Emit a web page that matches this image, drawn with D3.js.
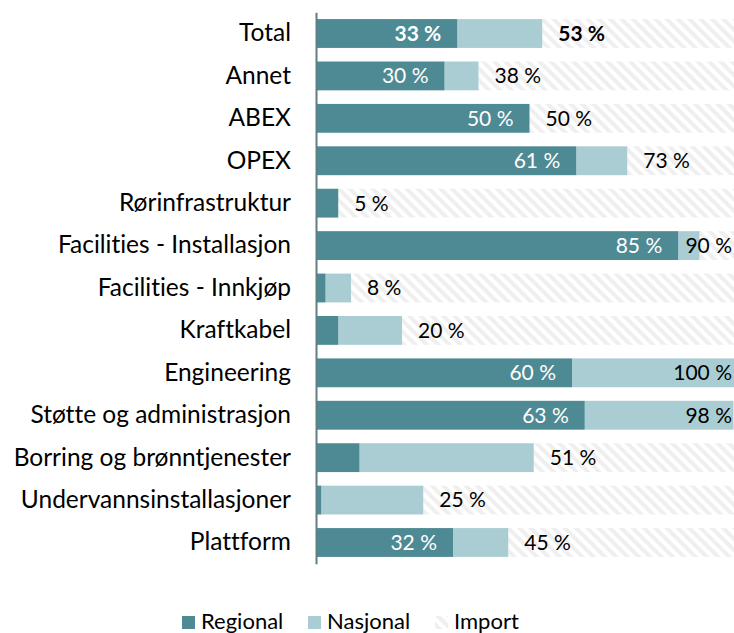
<!DOCTYPE html>
<html>
<head>
<meta charset="utf-8">
<script src="https://cdn.jsdelivr.net/npm/d3@7"></script>
<style>
  html, body { margin: 0; padding: 0; background: #fff; }
  svg { display: block; font-family: Lato, "Open Sans", sans-serif; font-variant-ligatures: none; }
</style>
</head>
<body>
<svg id="chart" width="734" height="633"></svg>
<script>
// Share of deliveries by origin (per cent), per category
const categories = [
  "Total", "Annet", "ABEX", "OPEX", "Rørinfrastruktur",
  "Facilities - Installasjon", "Facilities - Innkjøp", "Kraftkabel",
  "Engineering", "Støtte og administrasjon", "Borring og brønntjenester",
  "Undervannsinstallasjoner", "Plattform"
];
const regional = [33, 30, 50, 61, 5, 85, 2, 5, 60, 63, 10, 1, 32];
const nasjonal = [20, 8, 0, 12, 0, 5, 6, 15, 40, 35, 41, 24, 13];
const seriesNames = ["Regional", "Nasjonal", "Import"];

const colors = { Regional: "#4e8a94", Nasjonal: "#aacdd4" };

const rows = categories.map((c, i) => ({
  category: c,
  regional: regional[i],
  nasjonal: nasjonal[i],
  total: regional[i] + nasjonal[i],
  bold: c === "Total"
}));

const svg = d3.select("#chart");
const W = 734;

// Hatched fill used for the import share
const defs = svg.append("defs");
const pat = defs.append("pattern")
  .attr("id", "hatch")
  .attr("patternUnits", "userSpaceOnUse")
  .attr("width", 8).attr("height", 8)
  .attr("patternTransform", "rotate(-45)");
pat.append("rect").attr("width", 8).attr("height", 8).attr("fill", "#ffffff");
pat.append("rect").attr("width", 4).attr("height", 8).attr("fill", "#efefef");

const x = d3.scaleLinear().domain([0, 100]).range([317, 742]);
const y = d3.scaleBand()
  .domain(categories)
  .range([12.3, 563.7])
  .paddingInner(0.32)
  .paddingOuter(0.16);

const g = svg.append("g");

// Import: from national total out to 100 %
g.selectAll("rect.imp").data(rows).join("rect")
  .attr("class", "imp")
  .attr("x", d => x(d.total))
  .attr("y", d => y(d.category))
  .attr("width", d => x(100) - x(d.total))
  .attr("height", y.bandwidth())
  .attr("fill", "url(#hatch)");

// Nasjonal
g.selectAll("rect.nas").data(rows).join("rect")
  .attr("class", "nas")
  .attr("x", d => x(d.regional))
  .attr("y", d => y(d.category))
  .attr("width", d => x(d.total) - x(d.regional))
  .attr("height", y.bandwidth())
  .attr("fill", colors.Nasjonal);

// Regional
g.selectAll("rect.reg").data(rows).join("rect")
  .attr("class", "reg")
  .attr("x", x(0))
  .attr("y", d => y(d.category))
  .attr("width", d => x(d.regional) - x(0))
  .attr("height", y.bandwidth())
  .attr("fill", colors.Regional);

const fs = 21;

// Regional share labels, inside the bar end
g.selectAll("text.reglab").data(rows.filter(d => d.regional >= 15)).join("text")
  .attr("class", "reglab")
  .attr("x", d => x(d.regional) - 16)
  .attr("y", d => y(d.category) + y.bandwidth() / 2)
  .attr("dy", "0.35em")
  .attr("text-anchor", "end")
  .attr("fill", "#ffffff")
  .attr("font-size", fs)
  .attr("font-weight", d => d.bold ? 700 : 400)
  .text(d => d.regional + " %");

// Combined regional + national labels, after the bar end (kept inside the view)
g.selectAll("text.totlab").data(rows).join("text")
  .attr("class", "totlab")
  .attr("y", d => y(d.category) + y.bandwidth() / 2)
  .attr("dy", "0.35em")
  .attr("fill", "#000000")
  .attr("font-size", fs)
  .attr("font-weight", d => d.bold ? 700 : 400)
  .text(d => d.total + " %")
  .each(function (d) {
    const w = this.getComputedTextLength();
    let left = x(d.total) + 16;
    if (left + w > W - 2) left = W - 2 - w;
    d3.select(this).attr("x", left);
  });

// Category axis
const axis = svg.append("g")
  .attr("transform", "translate(316,0)")
  .call(d3.axisLeft(y).tickSize(0).tickPadding(25));
axis.select(".domain").attr("stroke", "#5f7f84").attr("stroke-width", 2);
axis.selectAll("text")
  .attr("font-size", 24.5)
  .attr("font-family", "Lato, 'Open Sans', sans-serif")
  .attr("fill", "#000");

// Legend
const legendItems = [
  { name: seriesNames[0], fill: colors.Regional, x: 182 },
  { name: seriesNames[1], fill: colors.Nasjonal, x: 308 },
  { name: seriesNames[2], fill: "url(#hatch)", x: 435 }
];
const lg = svg.append("g");
lg.selectAll("rect").data(legendItems).join("rect")
  .attr("x", d => d.x).attr("y", 616)
  .attr("width", 13).attr("height", 13)
  .attr("fill", d => d.fill);
lg.selectAll("text").data(legendItems).join("text")
  .attr("x", d => d.x + 19).attr("y", 629)
  .attr("font-size", 22)
  .attr("fill", "#000")
  .text(d => d.name);
</script>
</body>
</html>
